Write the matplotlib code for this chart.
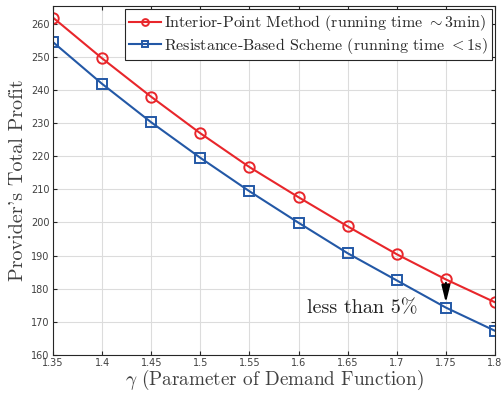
import matplotlib
matplotlib.use("Agg")
import matplotlib.pyplot as plt

gamma = [1.35, 1.4, 1.45, 1.5, 1.55, 1.6, 1.65, 1.7, 1.75, 1.8]
interior_point = [261.8, 249.5, 237.9, 226.9, 216.7, 207.6, 198.8, 190.4, 182.8, 175.9]
resistance = [254.4, 241.8, 230.2, 219.5, 209.4, 199.9, 190.7, 182.5, 174.3, 167.3]
xticks = [1.35, 1.4, 1.45, 1.5, 1.55, 1.6, 1.65, 1.7, 1.75, 1.8]
xticklabels = ["1.35", "1.4", "1.45", "1.5", "1.55", "1.6", "1.65", "1.7", "1.75", "1.8"]
yticks = [160, 170, 180, 190, 200, 210, 220, 230, 240, 250, 260]

plt.rcParams['mathtext.fontset'] = 'cm'
serif = 'cmr10'

fig = plt.figure(figsize=(5.03, 3.93), dpi=100)
ax = fig.add_axes([53/503, 38/393, 442/503, 349/393])

red = '#e8262b'
blue = '#2358a6'
ax.plot(gamma, interior_point, '-o', color=red, lw=1.5, ms=7.5, mew=1.4,
        mfc='none', label=r'Interior-Point Method (running time $\sim$3min)')
ax.plot(gamma, resistance, '-s', color=blue, lw=1.5, ms=6.5, mew=1.4,
        mfc='none', label=r'Resistance-Based Scheme (running time $<$1s)')

ax.set_xlim(1.35, 1.8)
ax.set_ylim(160, 265.3)
ax.set_xticks(xticks)
ax.set_xticklabels(xticklabels)
ax.set_yticks(yticks)
ax.tick_params(direction='in', labelsize=7, colors='#262626', right=True, top=True, length=3,
               labelcolor='#404040', pad=2.5)
ax.grid(True, color='#dcdcdc', lw=0.8)
for s in ax.spines.values():
    s.set_color('#262626')
    s.set_linewidth(0.8)

ax.set_xlabel(r'$\gamma$ (Parameter of Demand Function)', fontsize=13.8, family=serif,
              color='#404040', va='bottom')
ax.xaxis.set_label_coords((53 + 495) / 2 / 503, 0.5 / 393, transform=fig.transFigure)
ax.set_ylabel("Provider's Total Profit", fontsize=14.5, family=serif, color='#404040', labelpad=3)

ax.annotate('', xy=(gamma[8], resistance[8] + 0.6), xytext=(gamma[8], interior_point[8] - 0.2),
            arrowprops=dict(arrowstyle='-|>,head_length=1.0,head_width=0.25', color='black',
                            lw=1.5, mutation_scale=10))
ax.text(1.7216, 174.1, 'less than 5%', fontsize=14.5, family=serif, ha='right', va='center',
        color='#222222')

leg = ax.legend(loc='upper right', prop={'family': serif, 'size': 11.5}, fancybox=False,
                edgecolor='#262626', framealpha=1, borderpad=0.25, labelspacing=0.15,
                handlelength=2.0, handletextpad=0.2, borderaxespad=0.2, markerscale=0.65)
leg.get_frame().set_linewidth(0.8)
for t in leg.get_texts():
    t.set_color('#262626')

fig.savefig('out.png', dpi=100)
